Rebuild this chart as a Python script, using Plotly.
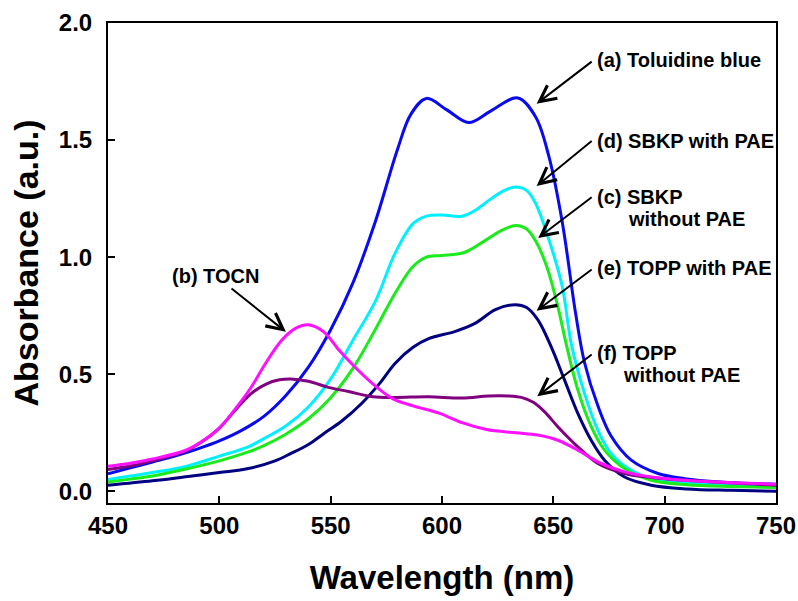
import plotly.graph_objects as go

# ---- data ----
wl_a = [450, 460, 470, 480, 490, 500, 510, 520, 530, 540, 550, 560, 570, 580, 586, 593, 602, 612, 622, 634, 642, 648, 654, 660, 664, 670, 676, 685, 697, 709, 725, 750]
abs_a = [0.075, 0.10, 0.125, 0.15, 0.18, 0.215, 0.26, 0.32, 0.41, 0.53, 0.69, 0.89, 1.15, 1.46, 1.61, 1.678, 1.63, 1.575, 1.625, 1.68, 1.60, 1.43, 1.15, 0.76, 0.55, 0.365, 0.235, 0.133, 0.076, 0.054, 0.04, 0.03]

wl_b = [450, 460, 470, 484, 492, 500, 507, 514, 521, 528, 534, 540, 547, 554, 562, 570, 578, 587, 599, 609, 620, 633, 643, 652, 661, 670, 682, 695, 709, 730, 750]
abs_b = [0.107, 0.12, 0.138, 0.172, 0.212, 0.27, 0.35, 0.44, 0.55, 0.645, 0.695, 0.711, 0.68, 0.60, 0.52, 0.45, 0.395, 0.365, 0.333, 0.293, 0.264, 0.25, 0.24, 0.218, 0.176, 0.126, 0.083, 0.06, 0.047, 0.037, 0.03]

wl_c = [450, 460, 470, 484, 500, 513, 520, 530, 540, 550, 560, 570, 579, 587, 593, 600, 610, 620, 627, 633, 638, 642, 647, 652, 656, 661, 667, 673, 682, 694, 710, 730, 750]
abs_c = [0.04, 0.052, 0.065, 0.093, 0.13, 0.168, 0.195, 0.245, 0.31, 0.40, 0.525, 0.69, 0.847, 0.96, 1.0, 1.007, 1.02, 1.075, 1.115, 1.135, 1.12, 1.07, 0.961, 0.79, 0.62, 0.433, 0.276, 0.176, 0.097, 0.047, 0.028, 0.02, 0.016]

wl_d = [450, 460, 470, 484, 500, 513, 520, 530, 540, 550, 560, 570, 579, 587, 593, 600, 609, 615, 620, 627, 633, 638, 642, 648, 654, 658, 664, 670, 676, 685, 697, 710, 730, 750]
abs_d = [0.05, 0.065, 0.08, 0.104, 0.15, 0.19, 0.225, 0.28, 0.36, 0.48, 0.645, 0.81, 1.018, 1.143, 1.175, 1.18, 1.175, 1.20, 1.235, 1.28, 1.30, 1.285, 1.23, 1.075, 0.875, 0.633, 0.418, 0.261, 0.161, 0.09, 0.047, 0.035, 0.025, 0.018]

wl_e = [450, 470, 484, 500, 513, 525, 532, 540, 547, 555, 564, 572, 579, 587, 594, 606, 615, 624, 633, 638, 643, 649, 655, 661, 667, 673, 682, 694, 710, 730, 750]
abs_e = [0.026, 0.045, 0.061, 0.08, 0.097, 0.13, 0.161, 0.2, 0.247, 0.3, 0.376, 0.461, 0.547, 0.615, 0.652, 0.683, 0.718, 0.776, 0.797, 0.785, 0.733, 0.618, 0.476, 0.333, 0.218, 0.133, 0.061, 0.026, 0.01, 0.004, 0.0]

wl_f = [450, 460, 470, 484, 492, 500, 507, 514, 521, 527, 532, 540, 549, 558, 569, 579, 594, 609, 621, 630, 636, 641, 646, 652, 661, 670, 682, 695, 709, 730, 750]
abs_f = [0.093, 0.108, 0.13, 0.168, 0.21, 0.27, 0.345, 0.415, 0.458, 0.476, 0.48, 0.47, 0.444, 0.426, 0.404, 0.401, 0.404, 0.398, 0.407, 0.407, 0.40, 0.38, 0.34, 0.276, 0.19, 0.119, 0.076, 0.058, 0.047, 0.035, 0.026]

x_ticks = [450, 500, 550, 600, 650, 700, 750]
y_ticks = [0.0, 0.5, 1.0, 1.5, 2.0]
y_tick_labels = ["0.0", "0.5", "1.0", "1.5", "2.0"]

series = [
    (wl_a, abs_a, "#0a0aee", "(a) Toluidine blue"),
    (wl_d, abs_d, "#00f0ff", "(d) SBKP with PAE"),
    (wl_c, abs_c, "#1aeb1a", "(c) SBKP without PAE"),
    (wl_e, abs_e, "#000080", "(e) TOPP with PAE"),
    (wl_f, abs_f, "#800080", "(f) TOPP without PAE"),
    (wl_b, abs_b, "#ff10ff", "(b) TOCN"),
]

FONT = "Liberation Sans, Arial, sans-serif"

fig = go.Figure()
for xs, ys, col, name in series:
    fig.add_trace(go.Scatter(x=xs, y=ys, mode="lines", name=name,
                             line=dict(color=col, width=3, shape="spline", smoothing=1.0)))

# labels: (text, x, y) left-anchored
labels = [
    ("(a) Toluidine blue", 668.8, 1.840),
    ("(d) SBKP with PAE", 668.8, 1.498),
    ("(c) SBKP", 668.8, 1.258),
    ("without PAE", 682.8, 1.162),
    ("(e) TOPP with PAE", 668.8, 0.952),
    ("(f) TOPP", 668.8, 0.589),
    ("without PAE", 680.4, 0.496),
    ("(b) TOCN", 477.8, 0.919),
]
for t, x, y in labels:
    fig.add_annotation(x=x, y=y, text=t, showarrow=False, xanchor="left", yanchor="middle",
                       font=dict(family=FONT, size=20, color="black", weight="bold"))

# arrows: (head_x, head_y, tail_x, tail_y)
arrows = [
    (642.5, 1.655, 667.9, 1.840),
    (642.5, 1.304, 667.9, 1.501),
    (643.2, 1.082, 667.9, 1.261),
    (642.5, 0.771, 667.9, 0.952),
    (642.8, 0.406, 667.9, 0.589),
    (529.9, 0.681, 504.8, 0.871),
]
for hx, hy, tx, ty in arrows:
    fig.add_annotation(x=hx, y=hy, ax=tx, ay=ty, xref="x", yref="y", axref="x", ayref="y",
                       text="", showarrow=True, arrowhead=5, arrowsize=1.6, arrowwidth=2,
                       arrowcolor="black")

fig.update_layout(
    width=798, height=601,
    margin=dict(l=108, r=22, t=23, b=98, autoexpand=False),
    paper_bgcolor="white", plot_bgcolor="white",
    showlegend=False,
    font=dict(family=FONT, color="black"),
)
fig.update_xaxes(
    range=[450, 750], tickvals=x_ticks, ticks="inside", ticklen=7, tickwidth=2,
    tickcolor="black", showline=True, linewidth=2, linecolor="black", mirror=True,
    showgrid=False, zeroline=False, automargin=False, ticklabelstandoff=0,
    tickfont=dict(family=FONT, size=24, color="black", weight="bold"),
    title=dict(text="Wavelength (nm)", standoff=28,
               font=dict(family=FONT, size=33, color="black", weight="bold")),
)
fig.update_yaxes(
    range=[-0.05, 2.0], tickvals=y_ticks, ticktext=y_tick_labels, ticks="inside", ticklen=7,
    tickwidth=2, tickcolor="black", showline=True, linewidth=2, linecolor="black", mirror=True,
    showgrid=False, zeroline=False, ticklabelstandoff=9, automargin=False,
    tickfont=dict(family=FONT, size=24, color="black", weight="bold"),
    title=dict(text="Absorbance (a.u.)", standoff=10,
               font=dict(family=FONT, size=34, color="black", weight="bold")),
)

# remove the default page margin so the 798x601 figure fills the window exactly
fig.write_html("out.html", config={"displayModeBar": False},
               post_script="document.body.style.margin='0';")
